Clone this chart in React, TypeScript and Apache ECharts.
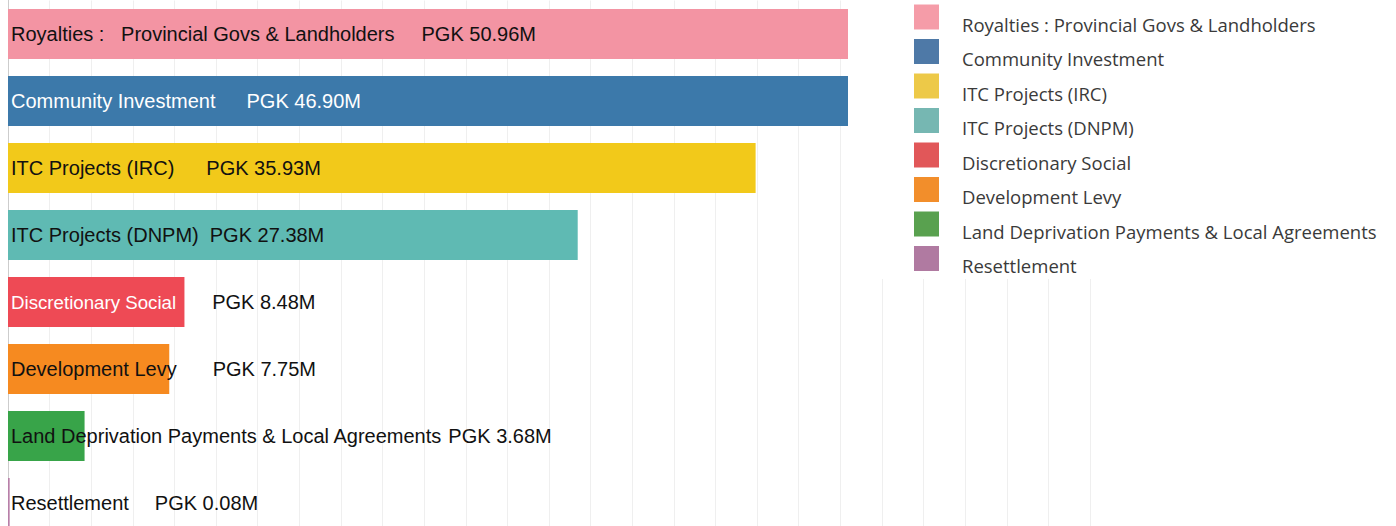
import React, { useEffect, useRef } from "react";
import * as echarts from "echarts";

const categories = [
  "Royalties : Provincial Govs & Landholders",
  "Community Investment",
  "ITC Projects (IRC)",
  "ITC Projects (DNPM)",
  "Discretionary Social",
  "Development Levy",
  "Land Deprivation Payments & Local Agreements",
  "Resettlement",
];
const barLabels = [
  "Royalties :   Provincial Govs & Landholders",
  "Community Investment",
  "ITC Projects (IRC)",
  "ITC Projects (DNPM)",
  "Discretionary Social",
  "Development Levy",
  "Land Deprivation Payments & Local Agreements",
  "Resettlement",
];
const values = [50.96, 46.9, 35.93, 27.38, 8.48, 7.75, 3.68, 0.08];

// styles
const barColors = ["#F394A3", "#3C79AA", "#F2C91A", "#5FBAB3", "#EE4A55", "#F68A20", "#38A449", "#B87FA8"];
const legendColors = ["#F59CA8", "#4E79A7", "#EDC948", "#76B7B2", "#E15759", "#F28E2B", "#59A14F", "#B07AA1"];
const nameColors = ["#111", "#fff", "#111", "#111", "#fff", "#111", "#111", "#111"];
const valueColors = ["#111", "#fff", "#111", "#111", "#111", "#111", "#111", "#111"];
const nameSizes = [20, 20, 20, 20, 18.7, 20, 20, 20];
const labelGaps = [27, 31, 32, 11, 36, 36, 6, 26];
const FONT = "Liberation Sans, Arial, sans-serif";

export default function App() {
  const ref = useRef<HTMLDivElement>(null);
  useEffect(() => {
    const chart = echarts.init(ref.current!, null, { renderer: "svg" });
    const series = categories.map((c, i) => ({
      name: c,
      type: "bar",
      stack: "total",
      barWidth: 50,
      data: values.map((v, j) => (j === i ? v : "-")),
      itemStyle: { color: barColors[i] },
      label: {
        show: true,
        position: "insideLeft",
        distance: 3,
        formatter: `{n|${barLabels[i]}}{v|PGK ${values[i].toFixed(2)}M}`,
        rich: {
          n: { color: nameColors[i], fontSize: nameSizes[i], fontFamily: FONT },
          v: {
            color: valueColors[i],
            fontSize: 20,
            fontFamily: FONT,
            padding: [0, 0, 0, labelGaps[i]],
          },
        },
      },
    }));
    chart.setOption({
      animation: false,
      grid: { left: 8, top: 0.5, width: 1082, height: 536, containLabel: false },
      xAxis: {
        type: "value",
        min: 0,
        max: 52,
        interval: 2,
        axisLabel: { show: false },
        axisLine: { show: false },
        axisTick: { show: false },
        splitLine: { lineStyle: { color: "#efefef", width: 1 } },
      },
      yAxis: {
        type: "category",
        data: categories,
        inverse: true,
        axisLabel: { show: false },
        axisTick: { show: false },
        axisLine: { show: true, lineStyle: { color: "#c8c8c8", type: "dotted" } },
        splitLine: { show: false },
      },
      legend: {
        orient: "vertical",
        left: 848,
        top: 0,
        padding: [0.5, 20, 4, 66],
        backgroundColor: "#fff",
        icon: "rect",
        itemWidth: 25,
        itemHeight: 25,
        itemGap: 1.5,
        selectedMode: false,
        formatter: "{t|{name}}",
        textStyle: {
          rich: {
            t: {
              fontFamily: "Open Sans",
              fontSize: 18.5,
              color: "#3a3a3a",
              lineHeight: 18,
              padding: [14, 0, 0, 18],
            },
          },
        },
        data: categories.map((c, i) => ({ name: c, itemStyle: { color: legendColors[i] } })),
      },
      series,
    });
    return () => chart.dispose();
  }, []);
  return (
    <div
      ref={ref}
      style={{ position: "fixed", left: 0, top: 0, width: 1396, height: 545, background: "#fff" }}
    />
  );
}
